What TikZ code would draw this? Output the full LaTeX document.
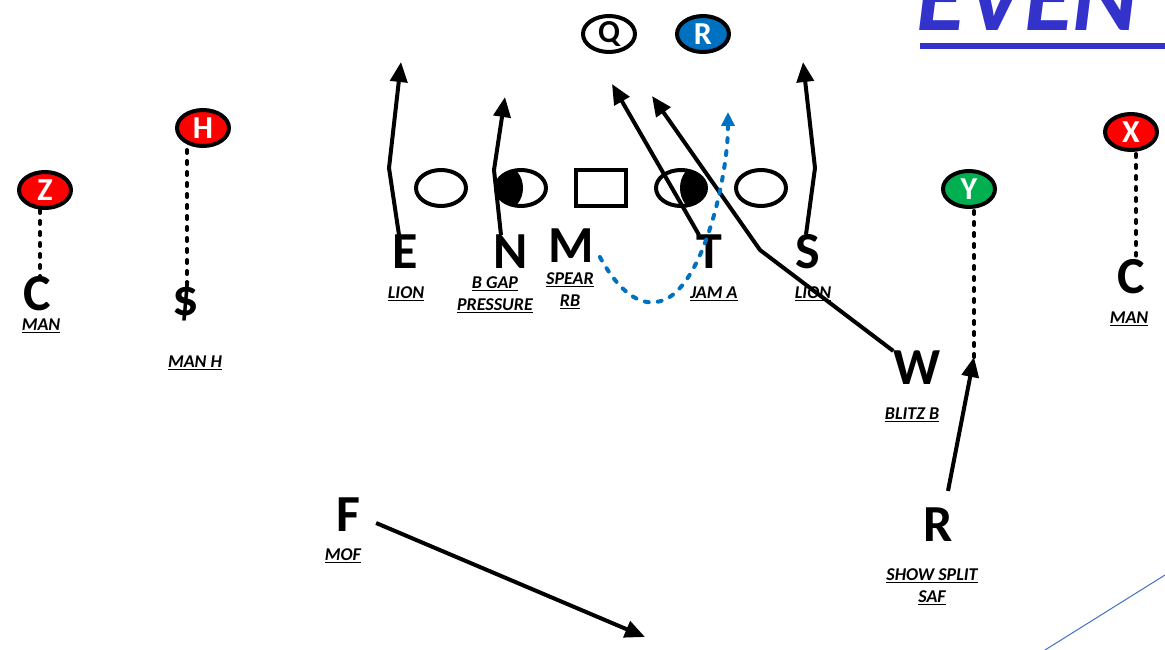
\documentclass[tikz,border=0pt]{standalone}
\usepackage{fontspec}
\setmainfont{Carlito}
\usepackage{xcolor}
\usepackage{tikz}
\usetikzlibrary{arrows,arrows.meta,positioning,shapes}
\definecolor{evenblue}{RGB}{51,51,204}
\definecolor{rbblue}{RGB}{0,112,192}
\definecolor{wrred}{RGB}{255,0,0}
\definecolor{wrgreen}{RGB}{0,176,80}
\definecolor{lineblue}{RGB}{68,114,196}

\begin{document}
\begin{tikzpicture}
            [x=1pt,y=-1pt,
             wr node/.style={ellipse,draw,line width=4pt,minimum width=52,minimum height=36,inner sep=0,text=white,font=\fontsize{32}{32}\selectfont\bfseries},
             ol node/.style={ellipse,draw,line width=4pt,minimum width=50,minimum height=36,inner sep=0},
             def node/.style={inner sep=0,font=\fontsize{52}{52}\selectfont\bfseries},
             call node/.style={inner sep=0,align=center,font=\fontsize{18}{22}\selectfont\bfseries\itshape},
             run/.style={line width=4pt,-{Triangle[length=20pt,width=17pt]}},
             cover/.style={line width=4pt,line cap=round,dash pattern=on 3pt off 8pt},
             motion/.style={rbblue,line width=4pt,line cap=round,dash pattern=on 4pt off 9pt,-{Triangle[length=14pt,width=13pt]}}]
            \useasboundingbox (0,0) rectangle (1165,650);
            % offense
            \node[wr node,fill=white,text=black] (Q) at (609,34) {Q};
            \node[wr node,fill=rbblue] (RB) at (703,34) {R};
            \node[wr node,fill=wrred] (Z) at (45,190) {Z};
            \node[wr node,fill=wrred] (H) at (203,128) {H};
            \node[wr node,fill=wrgreen] (Y) at (969,189) {Y};
            \node[wr node,fill=wrred] (X) at (1131,132) {X};
            \begin{scope}
            \clip (521,188) ellipse (25pt and 18pt);
            \fill (505,188) ellipse (18pt and 22pt);
            \end{scope}
            \begin{scope}
            \clip (681,188) ellipse (25pt and 18pt);
            \fill (697,188) ellipse (17pt and 22pt);
            \end{scope}
            \node[ol node] (LT) at (441,188) {};
            \node[ol node] (LG) at (521,188) {};
            \node[draw,line width=4pt,minimum width=50,minimum height=36,inner sep=0] (OC) at (601,188) {};
            \node[ol node] (RG) at (681,188) {};
            \node[ol node] (RT) at (761,188) {};
            % defense
            \node[def node] (E) at (405,252) {E};
            \node[def node] (N) at (511,252) {N};
            \node[def node] (M) at (571,246) {M};
            \node[def node] (T) at (709,252) {T};
            \node[def node] (S) at (808,252) {S};
            \node[def node] (W) at (917,368) {W};
            \node[def node] (F) at (348,515) {F};
            \node[def node] (R) at (938,525) {R};
            \node[def node] (CL) at (37,294) {C};
            \node[def node] (D) at (186,302) {\$};
            \node[def node] (CR) at (1131,277) {C};
            \node[call node] (eCall) at (406,294) {\underline{LION}};
            \node[call node] (nCall) at (495,295) {\underline{B GAP}\\\underline{PRESSURE}};
            \node[call node] (mCall) at (570,291) {\underline{SPEAR}\\\underline{RB}};
            \node[call node] (tCall) at (714,294) {\underline{JAM A}};
            \node[call node] (sCall) at (813,294) {\underline{LION}};
            \node[call node] (wCall) at (912,415) {\underline{BLITZ B}};
            \node[call node] (fCall) at (343,556) {\underline{MOF}};
            \node[call node] (rCall) at (932,587) {\underline{SHOW SPLIT}\\\underline{SAF}};
            \node[call node] (clCall) at (41,326) {\underline{MAN}};
            \node[call node] (dCall) at (195,363) {\underline{MAN H}};
            \node[call node] (crCall) at (1129,319) {\underline{MAN}};
            % paths
            \coordinate (eBend) at (389,168);
            \coordinate (eTip) at (401,62);
            \coordinate (nBend) at (494,170);
            \coordinate (nTip) at (505,97);
            \coordinate (tTip) at (612,84);
            \coordinate (sBend) at (815,168);
            \coordinate (sTip) at (803,62);
            \coordinate (wBend) at (760,250);
            \coordinate (wTip) at (652,96);
            \coordinate (fTip) at (645,637);
            \coordinate (yEnd) at (974,357);
            \coordinate (mLow) at (655,302);
            \coordinate (mTip) at (728,112);
            \draw[run] ([xshift=-6]E.north) -- (eBend) -- (eTip);
            \draw[run] ([xshift=-10]N.north) -- (nBend) -- (nTip);
            \draw[run] ([xshift=-10]T.north) -- (tTip);
            \draw[run] ([xshift=-2]S.north) -- (sBend) -- (sTip);
            \draw[run] (W.north west) -- (wBend) -- (wTip);
            \draw[run] ([shift={(16,8)}]F.east) -- (fTip);
            \draw[run] ([shift={(10,-17)}]R.north) -- (yEnd);
            \draw[motion] ([shift={(6,11)}]M.east) .. controls (615,285) and (635,305) .. (mLow) .. controls (700,300) and (728,180) .. (mTip);
            \draw[cover] ([xshift=-5]Z.south) -- ([xshift=3]CL.north);
            \draw[cover] ([shift={(-16,2)}]H.south) -- ([shift={(1,8)}]D.north);
            \draw[cover] ([shift={(5,2)}]Y.south) -- (yEnd);
            \draw[cover] ([shift={(5,2)}]X.south) -- ([shift={(5,-4)}]CR.north);
            % title
            \node[anchor=base west,inner sep=0,text=evenblue,font=\fontsize{100}{100}\selectfont\bfseries\itshape] (title) at (916,31) {EVEN};
            \fill[evenblue] (920,43) rectangle (1165,49);
            \draw[lineblue,line width=1pt] (1045,650) -- (1165,575);
            \end{tikzpicture}
\end{document}
